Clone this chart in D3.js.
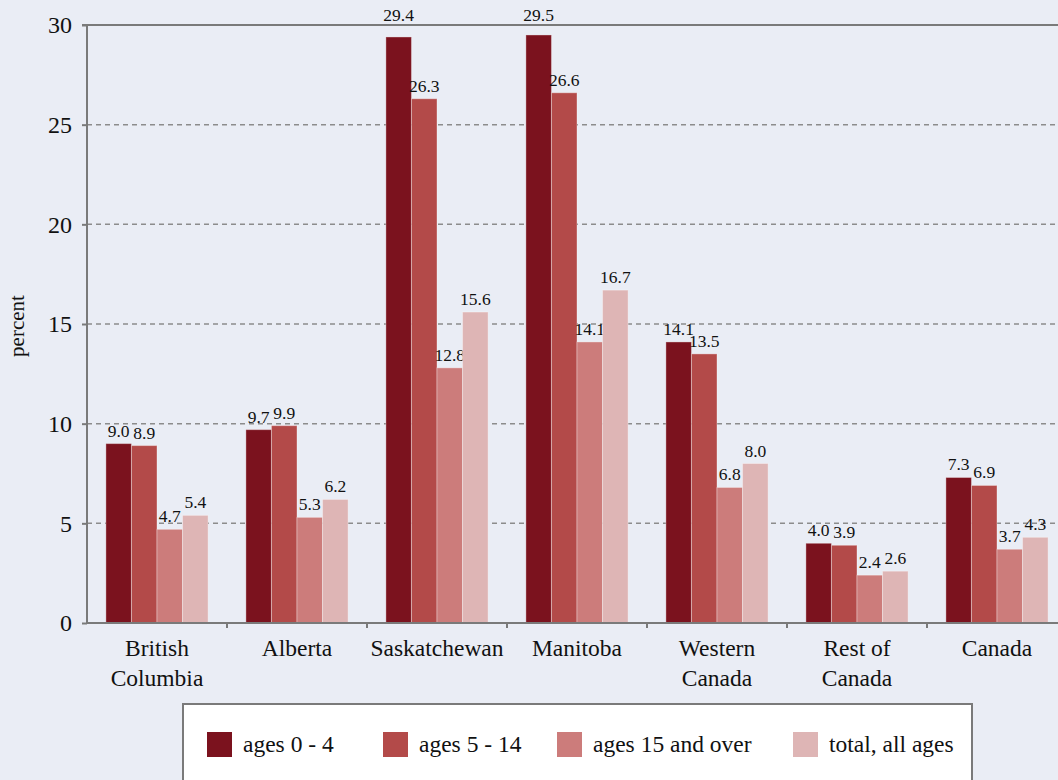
<!DOCTYPE html>
<html>
<head>
<meta charset="utf-8">
<script src="https://cdn.jsdelivr.net/npm/d3@7"></script>
<style>
  html, body { margin: 0; padding: 0; background: #eaedf5; }
  svg { display: block; }
  text { font-family: "Liberation Serif", "DejaVu Serif", serif; fill: #111; }
</style>
</head>
<body>
<svg id="chart" width="1058" height="780"></svg>
<script>
const categories = ["British Columbia", "Alberta", "Saskatchewan", "Manitoba", "Western Canada", "Rest of Canada", "Canada"];
const categoryLines = [["British", "Columbia"], ["Alberta"], ["Saskatchewan"], ["Manitoba"], ["Western", "Canada"], ["Rest of", "Canada"], ["Canada"]];
const seriesNames = ["ages 0 - 4", "ages 5 - 14", "ages 15 and over", "total, all ages"];
const ages0to4 = [9.0, 9.7, 29.4, 29.5, 14.1, 4.0, 7.3];
const ages5to14 = [8.9, 9.9, 26.3, 26.6, 13.5, 3.9, 6.9];
const ages15plus = [4.7, 5.3, 12.8, 14.1, 6.8, 2.4, 3.7];
const totalAllAges = [5.4, 6.2, 15.6, 16.7, 8.0, 2.6, 4.3];
const yTicks = [0, 5, 10, 15, 20, 25, 30];
const colors = ["#7b121e", "#b34a49", "#cc7c7b", "#deb5b5"];

const seriesValues = [ages0to4, ages5to14, ages15plus, totalAllAges];

const svg = d3.select("#chart");
const mLeft = 87, mRight = 1067, mTop = 25, mBottom = 623;

const x0 = d3.scaleBand().domain(categories).range([mLeft, mRight]).paddingInner(0.27).paddingOuter(0.135);
const x1 = d3.scaleBand().domain(seriesNames).range([0, x0.bandwidth()]).padding(0);
const y = d3.scaleLinear().domain([0, 30]).range([mBottom, mTop]);

// gridlines
svg.append("g").selectAll("line")
  .data(yTicks.filter(t => t > 0 && t < 30))
  .join("line")
  .attr("x1", mLeft).attr("x2", 1058)
  .attr("y1", d => y(d)).attr("y2", d => y(d))
  .attr("stroke", "#8c8c8c").attr("stroke-width", 1.5)
  .attr("stroke-dasharray", "5,4");

// top line at 30
svg.append("line")
  .attr("x1", mLeft - 5).attr("x2", 1058)
  .attr("y1", y(30)).attr("y2", y(30))
  .attr("stroke", "#7a7a7a").attr("stroke-width", 2);

// bars
const groups = svg.append("g").selectAll("g")
  .data(categories)
  .join("g")
  .attr("transform", d => `translate(${x0(d)},0)`);

groups.each(function(cat, ci) {
  const g = d3.select(this);
  seriesNames.forEach((s, si) => {
    const v = seriesValues[si][ci];
    g.append("rect")
      .attr("x", x1(s))
      .attr("y", y(v))
      .attr("width", x1.bandwidth())
      .attr("height", y(0) - y(v))
      .attr("fill", colors[si])
      .attr("stroke", "rgba(255,255,255,0.35)")
      .attr("stroke-width", 1);
    let ly = y(v) - 7;
    if (ly > mTop - 4 && ly - 14 < mTop) ly = mTop - 4;
    g.append("text")
      .attr("x", x1(s) + x1.bandwidth() / 2)
      .attr("y", ly)
      .attr("text-anchor", "middle")
      .attr("font-size", 17.5)
      .text(v.toFixed(1));
  });
});

// y axis
const yAxis = d3.axisLeft(y).tickValues(yTicks).tickSize(5).tickPadding(10).tickFormat(d3.format("d"));
const yg = svg.append("g").attr("transform", `translate(${mLeft},0)`).call(yAxis);
yg.select(".domain").attr("stroke", "#7a7a7a").attr("stroke-width", 2).attr("d", `M0,${mTop}V${mBottom}`);
yg.selectAll(".tick line").attr("stroke", "#7a7a7a").attr("stroke-width", 2);
yg.selectAll(".tick text").attr("font-size", 24).attr("font-family", "Liberation Serif").attr("fill", "#111");

// x axis
const xg = svg.append("g").attr("transform", `translate(0,${mBottom})`);
xg.append("line").attr("x1", mLeft).attr("x2", 1058).attr("y1", 0).attr("y2", 0)
  .attr("stroke", "#7a7a7a").attr("stroke-width", 2);
const gap = (x0.step() - x0.bandwidth()) / 2;
xg.selectAll("line.sep")
  .data(categories.slice(1))
  .join("line")
  .attr("class", "sep")
  .attr("x1", d => x0(d) - gap)
  .attr("x2", d => x0(d) - gap)
  .attr("y1", 0).attr("y2", 5)
  .attr("stroke", "#7a7a7a").attr("stroke-width", 2);

categories.forEach((c, i) => {
  const cx = x0(c) + x0.bandwidth() / 2;
  const t = xg.append("text")
    .attr("x", cx)
    .attr("y", 33)
    .attr("text-anchor", "middle")
    .attr("font-size", 23.5);
  categoryLines[i].forEach((ln, j) => {
    t.append("tspan").attr("x", cx).attr("dy", j === 0 ? 0 : 30).text(ln);
  });
});

// y label
svg.append("text")
  .attr("transform", "translate(24,326) rotate(-90)")
  .attr("text-anchor", "middle")
  .attr("font-size", 21)
  .text("percent");

// legend
const lg = svg.append("g");
lg.append("rect").attr("x", 183).attr("y", 704).attr("width", 789).attr("height", 90)
  .attr("fill", "#ffffff").attr("stroke", "#7a7a7a").attr("stroke-width", 2);
const legendX = [207, 383, 557, 793];
seriesNames.forEach((s, i) => {
  lg.append("rect").attr("x", legendX[i]).attr("y", 732).attr("width", 25).attr("height", 25).attr("fill", colors[i]);
  lg.append("text").attr("x", legendX[i] + 36).attr("y", 752).attr("font-size", 23.5).text(s);
});
</script>
</body>
</html>
